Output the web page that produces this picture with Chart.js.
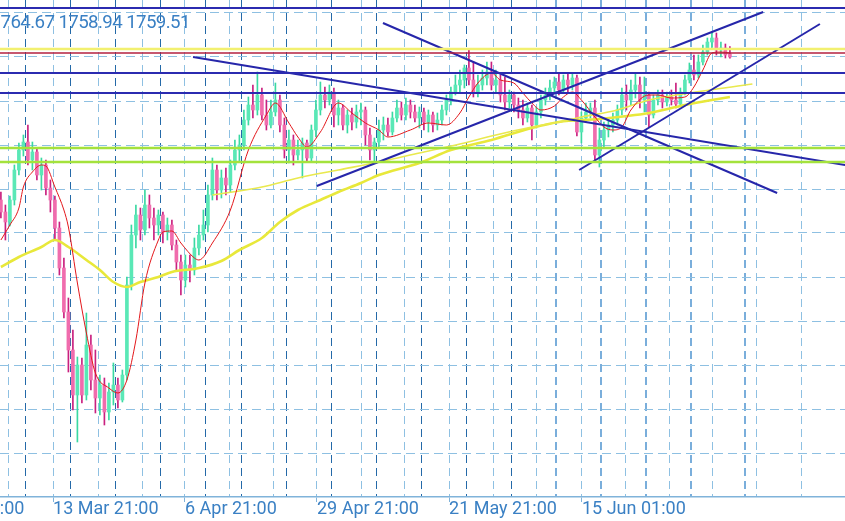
<!DOCTYPE html>
<html lang="en">
<head>
<meta charset="UTF-8">
<title>XAUUSD H4</title>
<script src="https://cdn.jsdelivr.net/npm/chart.js"></script>
<style>
  html, body { margin: 0; padding: 0; background: #fff; }
  #chart { display: block; }
</style>
</head>
<body>
<canvas id="chart" width="845" height="521"></canvas>
<script>
// candles, oldest first (one bar per index)
const opens = [
  1688, 1682, 1677, 1688, 1703, 1713, 1717, 1708, 1712, 1700.5,
  1705.5, 1694, 1688, 1674, 1654, 1632, 1613, 1590.5, 1605.5, 1590.5,
  1615.5, 1598, 1589, 1595.5, 1582, 1592, 1595.5, 1588, 1600.5, 1645.5,
  1670.5, 1680.5, 1673, 1685.5, 1679, 1675.5, 1680.5, 1672, 1675.5, 1665.5,
  1657, 1648, 1655.5, 1653, 1664, 1670.5, 1675.5, 1690.5, 1703, 1693,
  1699, 1695.5, 1705.5, 1713, 1715.5, 1728, 1735.5, 1733, 1740.5, 1730.5,
  1725.5, 1732, 1738, 1725.5, 1713, 1718, 1710.5, 1713, 1716.5, 1709,
  1723, 1733, 1740.5, 1738, 1742, 1730.5, 1734, 1725.5, 1730.5, 1727,
  1732, 1733, 1720.5, 1713, 1717, 1723, 1725.5, 1722, 1729, 1734,
  1730.5, 1735.5, 1732, 1729, 1732, 1727, 1730.5, 1725.5, 1728, 1733,
  1738, 1742, 1745.5, 1748, 1754, 1748, 1742, 1745.5, 1749, 1752,
  1745.5, 1748, 1740.5, 1737, 1740.5, 1735.5, 1733, 1729, 1734, 1725.5,
  1732, 1738, 1740.5, 1744, 1747, 1743, 1748, 1745.5, 1749, 1722,
  1729, 1732, 1734, 1710.5, 1718, 1723, 1725.5, 1728, 1733, 1740.5,
  1738, 1743, 1745.5, 1738, 1740.5, 1730.5, 1738, 1740.5, 1737, 1739.5,
  1738, 1736, 1742, 1748, 1753, 1750.5, 1757, 1762, 1767, 1769,
  1763, 1764, 1761
];
const highs = [
  1692, 1685.5, 1690, 1705.5, 1716.5, 1720.5, 1725.5, 1717, 1714, 1709,
  1708, 1698, 1690, 1677, 1659, 1639, 1623, 1609.5, 1609, 1631.5,
  1620.5, 1613, 1600.5, 1599, 1596.5, 1606.5, 1599, 1603, 1649.5, 1675.5,
  1685.5, 1684, 1693, 1690.5, 1684, 1683, 1682, 1679, 1678, 1668,
  1660.5, 1660.5, 1660.5, 1669, 1675.5, 1683, 1695.5, 1709, 1705.5, 1703,
  1704, 1708, 1718, 1720.5, 1733, 1739.5, 1745.5, 1752, 1744, 1738,
  1738, 1746.5, 1740.5, 1729, 1723, 1720.5, 1718, 1719, 1718, 1725.5,
  1738, 1747, 1744.5, 1745.5, 1744, 1738, 1735.5, 1733, 1734, 1735.5,
  1736.5, 1734.5, 1724, 1719, 1728, 1729.5, 1729, 1732, 1738, 1737,
  1739, 1738, 1735.5, 1734.5, 1734, 1733, 1732, 1731.5, 1735.5, 1740.5,
  1744.5, 1750.5, 1753, 1755.5, 1763, 1757, 1750.5, 1753, 1757, 1757,
  1753, 1750.5, 1749.5, 1743, 1742, 1739, 1738, 1736.5, 1735.5, 1734.5,
  1740.5, 1744, 1748, 1749.5, 1751.5, 1750.5, 1751.5, 1751.5, 1750.5, 1732,
  1736.5, 1736.5, 1738, 1724, 1727, 1729, 1731.5, 1735.5, 1744, 1745.5,
  1748, 1751.5, 1749.5, 1749.5, 1742, 1740.5, 1743, 1743, 1742, 1743,
  1746.5, 1744, 1750.5, 1756.5, 1760.5, 1760.5, 1765.5, 1769, 1772, 1771.5,
  1767, 1766, 1764.67
];
const lows = [
  1679, 1668, 1675, 1685.5, 1700.5, 1710, 1705.5, 1703, 1698, 1693,
  1690.5, 1682, 1668, 1650.5, 1629, 1602, 1583, 1567, 1586.5, 1588,
  1593, 1581.5, 1580.5, 1575.5, 1578, 1585.5, 1584, 1587, 1598, 1643,
  1664, 1668, 1670.5, 1674, 1668, 1670.5, 1666.5, 1668, 1663, 1653,
  1640.5, 1644.5, 1647, 1650.5, 1660.5, 1668, 1672, 1688, 1688, 1689,
  1690.5, 1692, 1703, 1707, 1713, 1725.5, 1729, 1730.5, 1728, 1723,
  1724, 1730, 1722, 1709, 1706.5, 1705.5, 1708, 1699, 1707, 1707,
  1719.5, 1730.5, 1734, 1735.5, 1724.5, 1725.5, 1723, 1721.5, 1723, 1724,
  1725.5, 1715.5, 1708, 1707, 1714, 1718, 1720, 1720.5, 1727, 1728,
  1728, 1729, 1727, 1724, 1723, 1722, 1722, 1723, 1725.5, 1730.5,
  1735.5, 1740.5, 1742, 1744, 1745.5, 1739.5, 1739.5, 1743, 1745.5, 1743,
  1742, 1737, 1733, 1734, 1732, 1729, 1725.5, 1727, 1718, 1724,
  1729, 1735.5, 1738, 1741.5, 1740.5, 1741.5, 1742, 1743, 1720, 1716.5,
  1727, 1729, 1707, 1704.5, 1714, 1719.5, 1722, 1725.5, 1730.5, 1733,
  1735.5, 1739, 1734, 1732, 1724.5, 1729, 1735.5, 1734, 1735, 1735.5,
  1734, 1735, 1740.5, 1746.5, 1748, 1749, 1755.5, 1760.5, 1764, 1760.5,
  1759.5, 1759, 1758.94
];
const closes = [
  1682, 1677, 1688, 1703, 1713, 1717, 1708, 1712, 1700.5, 1705.5,
  1694, 1688, 1674, 1654, 1632, 1613, 1590.5, 1605.5, 1590.5, 1615.5,
  1598, 1589, 1595.5, 1582, 1592, 1595.5, 1588, 1600.5, 1645.5, 1670.5,
  1680.5, 1673, 1685.5, 1679, 1675.5, 1680.5, 1672, 1675.5, 1665.5, 1657,
  1648, 1655.5, 1653, 1664, 1670.5, 1675.5, 1690.5, 1703, 1693, 1699,
  1695.5, 1705.5, 1713, 1715.5, 1728, 1735.5, 1733, 1740.5, 1730.5, 1725.5,
  1732, 1738, 1725.5, 1713, 1718, 1710.5, 1713, 1716.5, 1709, 1723,
  1733, 1740.5, 1738, 1742, 1730.5, 1734, 1725.5, 1730.5, 1727, 1732,
  1733, 1720.5, 1713, 1717, 1723, 1725.5, 1722, 1729, 1734, 1730.5,
  1735.5, 1732, 1729, 1732, 1727, 1730.5, 1725.5, 1728, 1733, 1738,
  1742, 1745.5, 1748, 1754, 1748, 1742, 1745.5, 1749, 1752, 1745.5,
  1748, 1740.5, 1737, 1740.5, 1735.5, 1733, 1729, 1734, 1725.5, 1732,
  1738, 1740.5, 1744, 1747, 1743, 1748, 1745.5, 1749, 1722, 1729,
  1732, 1734, 1710.5, 1718, 1723, 1725.5, 1728, 1733, 1740.5, 1738,
  1743, 1745.5, 1738, 1740.5, 1730.5, 1738, 1740.5, 1737, 1739.5, 1738,
  1736, 1742, 1748, 1753, 1750.5, 1757, 1762, 1767, 1769, 1763,
  1764, 1760.5, 1759.51
];

// moving averages, sampled at bar indices
const maFastIdx = [0, 2, 4, 5, 7, 9, 10, 12, 14, 15, 17, 19, 21, 24, 26, 28, 30, 32, 35, 36,
  38, 40, 43, 44, 47, 51, 55, 59, 61, 64, 66, 68, 71, 75, 78, 81, 84, 86, 91, 95,
  99, 102, 104, 106, 109, 111, 114, 116, 118, 120, 123, 125, 127, 129, 132, 134, 136, 138, 140, 144,
  146, 149, 152, 154, 156, 158, 160, 162];
const maFastVal = [1668, 1675.5, 1684, 1694.5, 1702, 1705.5, 1705, 1694.5, 1683, 1674.5, 1646.5, 1621.5, 1601.5, 1594, 1591.5, 1598, 1618, 1646.5, 1668, 1672,
  1672.5, 1666.5, 1659, 1658, 1666.5, 1683, 1713, 1730.5, 1736.5, 1726.5, 1719.5, 1714.5, 1722, 1736.5, 1731.5, 1726.5, 1723, 1719.5, 1723, 1726.5,
  1725.5, 1731.5, 1739.5, 1746.5, 1751.5, 1748, 1746.5, 1741.5, 1736.5, 1733, 1735, 1739.5, 1742, 1738, 1729.5, 1724.5, 1723, 1724.5, 1733, 1740.5,
  1740.5, 1739, 1739.5, 1744.5, 1753, 1761.5, 1762, 1761.5];
const maSlowIdx = [0, 4, 9, 12, 15, 19, 22, 25, 28, 31, 35, 38, 44, 49, 53, 58, 62, 66, 71, 75,
  80, 84, 93, 100, 109, 118, 124, 133, 144, 152, 158, 162];
const maSlowVal = [1654.5, 1659.5, 1664.5, 1668, 1664.5, 1658, 1653, 1647, 1644.5, 1647, 1649.5, 1652, 1654, 1657.5, 1663, 1669, 1677, 1683, 1688, 1692,
  1696.5, 1700.5, 1706.5, 1713, 1718, 1724, 1727, 1728.5, 1731.5, 1735.5, 1738, 1739.5];
const maShiftIdx = [47, 58, 66, 75, 84, 93, 102, 110, 118, 124, 129, 137, 144, 153, 167];
const maShiftVal = [1690.5, 1694.5, 1699, 1703, 1707, 1711.5, 1716, 1720.5, 1724.5, 1727, 1729.5, 1733, 1738, 1741.5, 1746];

// horizontal levels and trend lines [startBar, startPrice, endBar, endPrice]
const levels = [1784, 1763.5, 1761.5, 1751.5, 1741.5, 1714, 1707];
const levelColors = ['#2b2bb0', '#f2f070', '#b3203f', '#2b2bb0', '#2b2bb0', '#a4e23c', '#a4e23c'];
const levelWidths = [2, 2.5, 1.5, 2, 2, 2.5, 2.5];
const trendLines = [
  [42.7, 1759.5, 187.6, 1705.5],
  [84.9, 1776.5, 172.5, 1691.5],
  [70.2, 1695, 169.4, 1782],
  [128.5, 1703, 182.0, 1776]
];

// axes
const priceGrid = [1561.5, 1583.5, 1605.5, 1627.5, 1649.5, 1671.5, 1693.5, 1715.5, 1737.5, 1759.5, 1781.5];
const timeGrid = [-17.76, 1.8, 11.58, 21.58, 31.36, 40.91, 50.69, 60.47, 70.24, 80.24,
  89.8, 99.58, 109.36, 119.13, 129.13, 138.69, 148.47, 158.24, 168.02, 178.02];
const timeLabels = ['19 Feb 21:00', '', '13 Mar 21:00', '', '', '6 Apr 21:00', '', '', '29 Apr 21:00', '',
  '', '21 May 21:00', '', '', '15 Jun 01:00', '', '', '', '', ''];
const weekSeps = [5.36, 15.36, 25.36, 35.36, 45.36, 53.36, 63.36, 73.36, 83.36, 93.36,
  103.36, 113.36, 123.36, 133.36, 143.36, 153.36, 165.36];
const quote = [1764.67, 1758.94, 1759.51];

const X_MIN = -0.2, X_MAX = 187.578;
const Y_MIN = 1539.5, Y_MAX = 1788;

const rising = closes.map((c, i) => c >= opens[i]);
const bodies = closes.map((c, i) => ({ x: i, y: [opens[i], c] }));
const wicks = closes.map((c, i) => ({ x: i, y: [lows[i], highs[i]] }));
const pts = (xs, ys) => xs.map((x, i) => ({ x: x, y: ys[i] }));

const line = (data, color, width, order, extra) => Object.assign({
  type: 'line', data: data, borderColor: color, borderWidth: width,
  pointRadius: 0, fill: false, order: order
}, extra || {});

const datasets = [];
levels.forEach((p, k) => {
  datasets.push(line([{ x: X_MIN - 1, y: p }, { x: X_MAX + 1, y: p }], levelColors[k], levelWidths[k], 1));
});
trendLines.forEach(t => {
  datasets.push(line([{ x: t[0], y: t[1] }, { x: t[2], y: t[3] }], '#2626aa', 2, 1));
});
datasets.push(line(pts(maFastIdx, maFastVal), '#e3171b', 1, 2, { cubicInterpolationMode: 'monotone' }));
datasets.push(line(pts(maShiftIdx, maShiftVal), '#e9e94e', 1.6, 3, { cubicInterpolationMode: 'monotone' }));
datasets.push(line(pts(maSlowIdx, maSlowVal), '#e8e83a', 2.6, 3, { cubicInterpolationMode: 'monotone' }));
datasets.push({
  type: 'bar', data: bodies, order: 5,
  backgroundColor: rising.map(r => r ? '#5ae8b6' : '#f06cad'),
  barPercentage: 1, categoryPercentage: 1, maxBarThickness: 3, minBarLength: 1, grouped: false
});
datasets.push({
  type: 'bar', data: wicks, order: 6,
  backgroundColor: rising.map(r => r ? '#3ad9a2' : '#c9207f'),
  barPercentage: 1, categoryPercentage: 1, maxBarThickness: 1, grouped: false
});

// quote text at the top left, cut by the left edge like the terminal shows it
const quoteText = {
  id: 'quoteText',
  afterDraw(chart) {
    const c = chart.ctx;
    c.save();
    c.font = '18.7px Roboto';
    c.fillStyle = '#3a80c4';
    c.textBaseline = 'alphabetic';
    if ('letterSpacing' in c) c.letterSpacing = '-0.6px';
    const s = quote.map(v => v.toFixed(2)).join(' ');
    c.fillText(s, -c.measureText('1').width + 0.5, 28);
    c.restore();
  }
};

Chart.defaults.font.family = 'Roboto';

new Chart(document.getElementById('chart'), {
  type: 'line',
  data: { datasets: datasets },
  plugins: [quoteText],
  options: {
    responsive: false,
    animation: false,
    events: [],
    layout: { padding: 0 },
    plugins: { legend: { display: false }, tooltip: { enabled: false }, title: { display: false } },
    scales: {
      x: {
        type: 'linear', position: 'bottom', min: X_MIN, max: X_MAX, offset: false,
        afterBuildTicks: s => { s.ticks = timeGrid.map(v => ({ value: v })); },
        afterFit: s => { s.height = 24; s.paddingLeft = 0; s.paddingRight = 0; },
        grid: {
          color: '#8ec0e2', lineWidth: 1, offset: false, drawTicks: true, tickLength: 5,
          tickColor: ctx => timeLabels[ctx.index] ? '#80b3da' : 'rgba(0,0,0,0)'
        },
        border: { display: true, color: '#80b3da', width: 1.5, dash: [8, 5] },
        ticks: {
          autoSkip: false, maxRotation: 0, minRotation: 0, align: 'start', padding: -3,
          color: '#3a80c4', font: { size: 18 },
          callback: (v, i) => timeLabels[i]
        }
      },
      x2: {
        type: 'linear', position: 'bottom', min: X_MIN, max: X_MAX, offset: false,
        afterBuildTicks: s => { s.ticks = weekSeps.map(v => ({ value: v })); },
        afterFit: s => { s.height = 0; },
        grid: {
          offset: false, drawTicks: false,
          color: ctx => ctx.index >= 12 ? '#7aaedb' : '#2469a8',
          lineWidth: ctx => ctx.index >= 12 ? 2 : 1
        },
        border: { display: false, dash: [8, 5] },
        ticks: { display: false }
      },
      y: {
        type: 'linear', position: 'left', min: Y_MIN, max: Y_MAX,
        afterBuildTicks: s => { s.ticks = priceGrid.map(v => ({ value: v })); },
        afterFit: s => { s.width = 0; },
        grid: { color: '#8ec0e2', lineWidth: 1, drawTicks: false },
        border: { display: false, dash: [9, 5] },
        ticks: { display: false }
      }
    }
  }
});
</script>
</body>
</html>
